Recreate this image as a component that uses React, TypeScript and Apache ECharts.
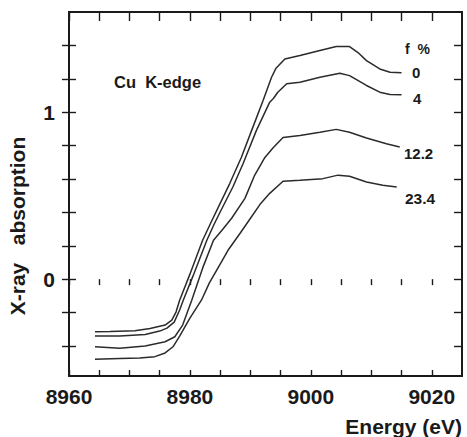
import React, { useEffect, useRef } from "react";
import * as echarts from "echarts";

// Energy (eV) and X-ray absorption, one pair of arrays per Cu fraction
const energy0 = [8964.3, 8966.8, 8970.9, 8973.4, 8975.9, 8977.0, 8977.7, 8978.3, 8980.0, 8982.1, 8983.5, 8985.0, 8986.6, 8988.5, 8990.4, 8992.1, 8993.5, 8994.2, 8995.7, 8998.2, 9001.5, 9004.2, 9006.4, 9007.8, 9009.2, 9011.4, 9013.1, 9015.0];
const absorb0 = [-0.315, -0.314, -0.309, -0.296, -0.275, -0.245, -0.197, -0.126, 0.030, 0.233, 0.341, 0.454, 0.574, 0.729, 0.909, 1.070, 1.209, 1.261, 1.319, 1.339, 1.369, 1.393, 1.393, 1.357, 1.309, 1.259, 1.239, 1.236];

const energy4 = [8964.3, 8968.4, 8972.6, 8975.0, 8976.2, 8977.4, 8978.3, 8978.9, 8980.5, 8982.8, 8984.0, 8985.0, 8987.1, 8988.8, 8991.0, 8993.2, 8993.8, 8994.5, 8996.0, 8998.2, 9001.5, 9004.8, 9006.4, 9009.2, 9011.4, 9013.1, 9015.0];
const absorb4 = [-0.341, -0.341, -0.331, -0.311, -0.293, -0.257, -0.185, -0.126, 0.018, 0.233, 0.329, 0.402, 0.552, 0.693, 0.891, 1.060, 1.082, 1.118, 1.170, 1.179, 1.209, 1.233, 1.219, 1.160, 1.120, 1.106, 1.104];

const energy12 = [8964.3, 8968.4, 8972.6, 8975.9, 8977.5, 8978.8, 8980.3, 8982.1, 8983.9, 8985.3, 8986.9, 8989.1, 8990.7, 8992.4, 8993.8, 8995.4, 8998.2, 9001.5, 9004.2, 9006.4, 9009.2, 9012.5, 9014.7];
const absorb12 = [-0.405, -0.414, -0.400, -0.375, -0.345, -0.275, -0.126, 0.066, 0.233, 0.293, 0.365, 0.484, 0.622, 0.729, 0.789, 0.849, 0.861, 0.880, 0.897, 0.880, 0.845, 0.811, 0.791];

const energy23 = [8964.3, 8968.4, 8971.7, 8974.2, 8975.9, 8977.2, 8978.3, 8980.0, 8981.9, 8983.2, 8985.0, 8986.3, 8988.3, 8989.9, 8991.6, 8993.2, 8995.4, 8998.2, 9002.0, 9004.5, 9006.4, 9009.2, 9011.9, 9014.2];
const absorb23 = [-0.480, -0.475, -0.472, -0.464, -0.442, -0.405, -0.341, -0.233, -0.126, -0.024, 0.090, 0.173, 0.275, 0.359, 0.448, 0.514, 0.586, 0.592, 0.602, 0.623, 0.616, 0.582, 0.562, 0.552];

const curveLabels = ["0", "4", "12.2", "23.4"];
const xRange = [8960, 9025];
const yRange = [-0.58, 1.6];
const xTickValues = [8960, 8965, 8970, 8975, 8980, 8985, 8990, 8995, 9000, 9005, 9010, 9015, 9020];
const xLabelValues = [8960, 8980, 9000, 9020];
const yTickValues = [-0.4, -0.2, 0, 0.2, 0.4, 0.6, 0.8, 1.0, 1.2, 1.4];
const yLabelValues = [0, 1];

const pair = (xs: number[], ys: number[]) => xs.map((x, i) => [x, ys[i]]);

const FONT = "Liberation Sans, Arial, sans-serif";

export default function App() {
  const ref = useRef<HTMLDivElement>(null);
  useEffect(() => {
    document.body.style.margin = "0";
    if (!ref.current) return;
    const chart = echarts.init(ref.current, null, { renderer: "svg" });
    const series = [
      pair(energy0, absorb0),
      pair(energy4, absorb4),
      pair(energy12, absorb12),
      pair(energy23, absorb23),
    ].map((data, i) => ({
      type: "line",
      name: curveLabels[i],
      data,
      showSymbol: false,
      symbol: "none",
      smooth: false,
      xAxisIndex: 0,
      yAxisIndex: 0,
      lineStyle: { color: "#2b2b2b", width: 1.5 },
    }));
    chart.setOption({
      animation: false,
      grid: [
        { left: 69, right: 5, top: 12, bottom: 61 },
        { left: 69, right: 5, top: 12, bottom: 61 },
      ],
      xAxis: [
        {
          type: "value",
          gridIndex: 0,
          min: xRange[0],
          max: xRange[1],
          position: "bottom",
          splitLine: { show: false },
          axisLine: { show: true, onZero: false, lineStyle: { color: "#1a1a1a", width: 2 } },
          axisTick: { show: true, inside: true, length: 6, customValues: xTickValues, lineStyle: { color: "#1a1a1a", width: 1.4 } },
          axisLabel: {
            show: true,
            customValues: xLabelValues,
            formatter: (v: number) => String(v),
            fontSize: 21,
            fontFamily: FONT,
            fontWeight: "bold",
            color: "#1a1a1a",
            margin: 10,
          },
        },
        {
          type: "value",
          gridIndex: 0,
          min: xRange[0],
          max: xRange[1],
          position: "top",
          splitLine: { show: false },
          axisLine: { show: true, onZero: false, lineStyle: { color: "#1a1a1a", width: 2 } },
          axisTick: { show: true, inside: true, length: 9, customValues: xTickValues, lineStyle: { color: "#1a1a1a", width: 1.4 } },
          axisLabel: { show: false },
        },
        {
          type: "value",
          gridIndex: 1,
          min: xRange[0],
          max: xRange[1],
          position: "bottom",
          splitLine: { show: false },
          axisLine: { show: false },
          axisTick: { show: true, inside: false, length: 6, customValues: xTickValues, lineStyle: { color: "#1a1a1a", width: 1.4 } },
          axisLabel: { show: false },
        },
      ],
      yAxis: [
        {
          type: "value",
          gridIndex: 0,
          min: yRange[0],
          max: yRange[1],
          position: "left",
          splitLine: { show: false },
          axisLine: { show: true, onZero: false, lineStyle: { color: "#1a1a1a", width: 2 } },
          axisTick: { show: true, inside: true, length: 7, customValues: yTickValues, lineStyle: { color: "#1a1a1a", width: 1.4 } },
          axisLabel: {
            show: true,
            customValues: yLabelValues,
            formatter: (v: number) => String(v),
            fontSize: 21,
            fontFamily: FONT,
            fontWeight: "bold",
            color: "#1a1a1a",
            margin: 14,
          },
        },
        {
          type: "value",
          gridIndex: 0,
          min: yRange[0],
          max: yRange[1],
          position: "right",
          splitLine: { show: false },
          axisLine: { show: true, onZero: false, lineStyle: { color: "#1a1a1a", width: 2 } },
          axisTick: { show: true, inside: true, length: 8, customValues: yTickValues, lineStyle: { color: "#1a1a1a", width: 1.4 } },
          axisLabel: { show: false },
        },
        {
          type: "value",
          gridIndex: 1,
          min: yRange[0],
          max: yRange[1],
          position: "left",
          splitLine: { show: false },
          axisLine: { show: false },
          axisTick: { show: true, inside: false, length: 7, customValues: yTickValues, lineStyle: { color: "#1a1a1a", width: 1.4 } },
          axisLabel: { show: false },
        },
      ],
      series,
      graphic: [
        {
          type: "text",
          x: 114,
          y: 73,
          style: { text: "Cu  K-edge", fontSize: 16.5, fontWeight: "bold", fontFamily: FONT, fill: "#1a1a1a" },
        },
        {
          type: "text",
          x: 405,
          y: 42,
          style: { text: "f  %", fontSize: 14, fontWeight: "bold", fontFamily: FONT, fill: "#1a1a1a" },
        },
        {
          type: "text",
          x: 412,
          y: 65,
          style: { text: curveLabels[0], fontSize: 15, fontWeight: "bold", fontFamily: FONT, fill: "#1a1a1a" },
        },
        {
          type: "text",
          x: 413,
          y: 91,
          style: { text: curveLabels[1], fontSize: 15, fontWeight: "bold", fontFamily: FONT, fill: "#1a1a1a" },
        },
        {
          type: "text",
          x: 404,
          y: 146,
          style: { text: curveLabels[2], fontSize: 15, fontWeight: "bold", fontFamily: FONT, fill: "#1a1a1a" },
        },
        {
          type: "text",
          x: 405,
          y: 190,
          style: { text: curveLabels[3], fontSize: 15.5, fontWeight: "bold", fontFamily: FONT, fill: "#1a1a1a" },
        },
        {
          type: "text",
          x: 462,
          y: 426,
          style: {
            text: "Energy (eV)",
            fontSize: 21,
            fontWeight: "bold",
            fontFamily: FONT,
            fill: "#1a1a1a",
            align: "right",
            verticalAlign: "middle",
          },
        },
        {
          type: "text",
          x: 17,
          y: 226,
          rotation: Math.PI / 2,
          style: {
            text: "X-ray   absorption",
            fontSize: 21,
            fontWeight: "bold",
            fontFamily: FONT,
            fill: "#1a1a1a",
            align: "center",
            verticalAlign: "middle",
          },
        },
      ],
    });
    // Plot frame: corners obtained from the chart's own axis scales
    const topLeft = chart.convertToPixel({ xAxisIndex: 0, yAxisIndex: 0 }, [xRange[0], yRange[1]]) as number[];
    const bottomRight = chart.convertToPixel({ xAxisIndex: 0, yAxisIndex: 0 }, [xRange[1], yRange[0]]) as number[];
    if (topLeft && bottomRight) {
      chart.setOption({
        graphic: [
          {
            id: "frame",
            type: "polyline",
            z: 100,
            silent: true,
            shape: {
              points: [
                [topLeft[0], bottomRight[1]],
                [topLeft[0], topLeft[1]],
                [bottomRight[0], topLeft[1]],
                [bottomRight[0], bottomRight[1]],
                [topLeft[0], bottomRight[1]],
              ],
            },
            style: { stroke: "#1a1a1a", lineWidth: 2, fill: null },
          },
        ],
      });
    }
    return () => chart.dispose();
  }, []);
  return <div ref={ref} style={{ width: 467, height: 437 }} />;
}
